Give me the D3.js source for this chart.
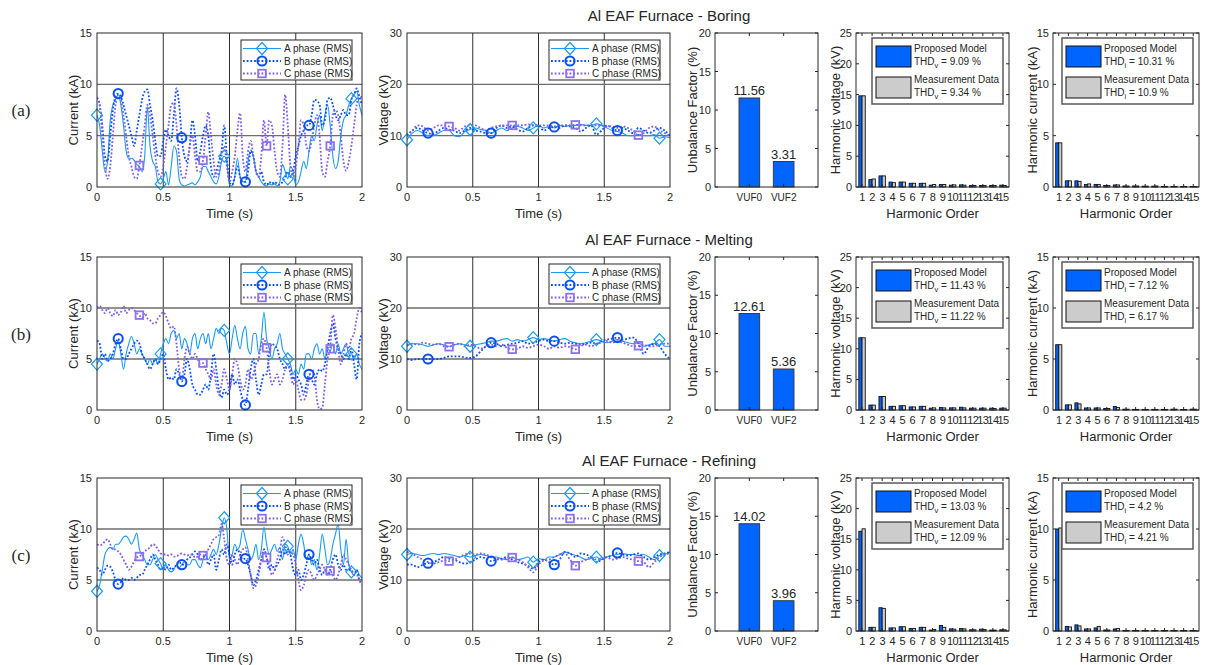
<!DOCTYPE html>
<html>
<head>
<meta charset="utf-8">
<script src="https://cdn.jsdelivr.net/npm/d3@7"></script>
<style>
body { margin: 0; background: #fff; }
text { font-family: "Liberation Sans", Arial, sans-serif; fill: #262626; }
</style>
</head>
<body>
<div id="chart"></div>
<script>
// time bases (s)
var timeCur = d3.range(0, 101).map(function(i) { return +(i * 0.02).toFixed(2); });
var timeVolt = d3.range(0, 51).map(function(i) { return +(i * 0.04).toFixed(2); });

var markTimesA = [0, 0.48, 0.96, 1.44, 1.92],
    markTimesB = [0.16, 0.64, 1.12, 1.60],
    markTimesC = [0.32, 0.80, 1.28, 1.76];

var phaseNames = ['A phase (RMS)', 'B phase (RMS)', 'C phase (RMS)'];
var stageNames = ['Boring', 'Melting', 'Refining'];
var rowTags = ['(a)', '(b)', '(c)'];

// ---- currents (kA), 0.02 s step
var boringCurA = [7.0,6.0,3.5,1.5,2.5,6.5,8.0,8.5,9.0,8.0, 6.0,3.5,2.8,2.8,2.6,2.2,2.0,1.5,3.0,7.8,
    4.0,2.5,2.0,0.5,0.3,0.8,1.5,0.2,2.0,4.0, 3.5,0.8,0.2,0.1,0.2,0.3,0.4,0.2,0.5,1.0,
    2.0,2.0,1.5,1.0,0.5,0.3,1.0,2.5,3.0,2.5, 0.2,0.1,1.0,2.8,1.0,0.5,0.5,2.5,3.6,3.0,
    1.5,1.0,0.5,0.2,0.1,0.3,0.2,0.3,0.1,0.5, 2.2,1.5,0.8,2.0,1.5,0.2,0.5,1.5,2.5,1.8,
    3.5,5.0,4.5,6.0,7.0,5.5,7.0,8.0,6.0,3.0, 1.8,2.5,5.0,6.5,7.0,8.0,8.6,9.0,9.3,8.0,7.0];
var boringCurB = [8.7,8.0,6.0,3.0,2.5,5.0,7.5,8.8,9.1,8.8, 8.0,7.0,6.0,5.0,4.0,5.5,7.0,8.5,9.3,9.5,
    8.0,6.5,4.5,3.0,3.0,4.5,5.6,5.0,4.5,7.0, 9.6,8.0,4.8,3.0,2.5,4.0,6.5,5.0,2.5,3.5,
    5.0,6.0,5.0,2.0,1.0,1.5,2.5,3.5,6.0,3.0, 0.5,0.2,1.0,2.0,1.0,0.5,0.5,1.5,3.5,3.0,
    1.5,1.0,1.5,0.5,0.2,0.5,0.3,0.5,0.3,0.2, 0.5,1.0,1.5,1.0,1.5,3.0,4.0,5.0,5.5,6.0,
    6.0,7.0,8.5,8.4,8.0,6.0,6.5,8.5,8.7,8.0, 7.0,6.5,7.0,7.5,7.0,7.0,8.5,9.0,9.6,8.8,8.0];
var boringCurC = [8.7,8.0,5.0,2.0,0.8,2.0,5.0,8.0,8.8,8.5, 7.0,5.0,3.0,2.0,1.0,0.8,2.1,4.0,6.0,8.0,
    7.0,5.0,3.0,1.5,1.0,2.0,4.0,6.0,8.0,8.2, 6.0,3.0,1.0,0.8,2.0,4.0,5.0,3.0,1.5,1.5,
    2.6,5.0,7.3,5.0,2.5,1.0,1.5,3.0,4.0,2.0, 0.5,1.5,3.0,5.5,7.2,3.0,1.5,3.5,4.5,3.0,
    1.5,1.0,3.0,6.5,4.0,6.5,6.0,3.5,1.5,1.0, 4.0,9.0,6.0,2.0,1.0,2.0,4.0,6.5,6.0,4.0,
    3.5,4.5,6.0,7.0,5.0,1.5,1.0,2.5,4.0,7.0, 7.5,7.0,5.0,2.5,1.6,2.5,4.0,6.0,8.0,9.0,8.5];

var meltingCurA = [4.5,5.0,5.5,5.0,4.8,5.5,5.0,6.0,6.8,5.5, 4.0,5.5,6.5,7.2,6.5,5.5,6.0,5.5,5.0,4.5,
    5.0,4.5,5.0,4.5,5.5,6.5,7.0,6.5,7.5,7.8, 7.0,7.5,6.0,7.0,6.5,5.5,7.0,7.5,6.0,7.0,
    7.5,6.5,7.5,6.0,7.0,8.0,7.5,8.0,7.8,6.5, 5.5,7.0,8.3,7.0,6.0,7.5,8.2,6.0,5.5,7.5,
    7.5,5.5,7.0,9.6,7.0,6.0,5.0,6.0,6.5,7.5, 6.0,5.5,5.0,4.5,3.5,4.0,3.5,4.5,4.0,5.5,
    5.5,5.0,6.0,6.5,5.5,6.0,5.0,6.0,5.8,6.5, 5.5,6.5,5.5,6.0,6.5,5.5,5.5,5.0,5.5,4.5,4.0];
var meltingCurB = [6.8,6.5,5.0,5.5,4.8,5.0,5.5,6.5,7.0,6.0, 5.0,5.0,5.5,6.0,6.5,6.8,6.5,5.5,5.0,4.5,
    4.0,4.5,5.0,4.5,5.0,5.5,4.0,3.0,3.2,3.0, 4.0,3.5,2.8,3.5,5.0,4.0,2.5,2.0,1.5,1.5,
    2.0,2.5,2.0,3.5,5.5,4.0,2.0,1.2,2.0,1.5, 2.0,3.5,2.5,3.0,2.0,1.0,0.5,2.0,4.0,5.0,
    3.0,1.5,2.5,3.5,3.5,5.5,6.5,6.3,6.0,5.0, 4.5,4.0,4.5,4.0,3.0,3.5,3.0,2.5,1.5,2.5,
    3.5,3.0,2.5,3.5,4.0,3.8,4.5,6.0,7.5,8.5, 7.0,6.0,5.5,5.0,5.5,5.0,6.0,4.5,3.0,6.5,7.5];
var meltingCurC = [10.0,10.2,9.8,9.5,10.0,9.5,9.2,9.8,9.3,9.6, 10.2,9.5,9.8,10.0,9.8,9.5,9.3,9.0,9.5,9.0,
    8.8,8.5,8.5,9.0,9.3,9.6,9.2,8.5,8.0,8.2, 6.5,4.0,3.0,5.0,6.2,5.5,5.0,5.5,5.0,4.5,
    4.6,4.0,3.5,3.0,4.0,2.5,1.5,2.5,4.0,3.0, 2.0,3.5,5.0,4.5,3.0,2.0,2.5,4.0,3.0,3.5,
    4.5,5.0,6.5,7.0,6.1,4.0,2.5,3.0,3.5,2.5, 3.0,4.0,4.5,3.5,2.5,3.0,2.0,1.0,1.0,1.5,
    3.0,4.0,3.5,1.0,0.1,0.2,2.5,5.0,6.0,9.3, 8.0,6.0,4.5,5.5,6.5,6.0,7.0,7.5,9.0,10.0,9.5];

var refiningCurA = [3.9,4.5,6.0,7.5,8.0,8.2,8.0,8.5,8.5,8.8, 9.2,9.3,9.0,8.5,9.0,9.6,8.0,7.5,7.0,6.5,
    6.5,7.0,7.5,7.0,6.6,6.0,6.5,6.0,5.8,6.0, 6.5,6.2,6.5,6.8,6.5,6.5,7.0,7.0,6.5,6.2,
    7.0,7.5,7.0,7.5,8.0,7.5,8.5,10.0,11.1,10.0, 7.0,7.5,8.5,8.0,8.5,10.0,9.0,8.0,7.0,7.5,
    8.5,7.0,8.0,10.2,8.5,7.5,8.0,8.5,7.8,8.2, 7.0,8.5,8.3,7.5,8.0,7.0,8.5,9.5,8.5,7.0,
    7.5,6.5,7.0,6.0,7.5,9.5,8.0,6.5,7.0,8.5, 9.5,10.5,8.0,6.5,9.0,6.5,5.8,5.5,6.0,5.5,5.2];
var refiningCurB = [6.2,6.0,5.5,6.0,6.4,6.3,5.8,5.0,4.6,4.8, 5.2,5.0,5.0,5.2,5.0,5.2,5.5,5.5,6.0,6.5,
    7.0,7.5,7.0,6.5,6.0,6.2,6.0,6.5,6.0,6.2, 6.5,6.8,6.5,6.5,7.0,7.2,7.5,7.8,7.5,7.0,
    7.2,7.5,6.5,7.0,7.5,6.0,7.0,8.0,7.5,8.5, 7.5,6.5,7.5,8.0,7.5,7.0,7.1,6.5,5.5,4.5,
    5.0,6.0,7.0,8.0,7.2,6.0,6.5,6.0,6.5,7.0, 8.0,7.5,8.0,7.5,6.0,5.5,6.0,5.0,5.5,6.5,
    7.5,7.0,6.5,7.0,6.0,5.5,6.0,5.5,6.0,7.0, 7.5,6.5,6.0,6.5,6.0,6.0,6.0,5.5,6.0,5.0,4.6];
var refiningCurC = [8.5,8.4,8.5,8.8,9.0,8.5,8.0,8.0,7.8,7.5, 7.0,6.5,6.0,6.3,6.8,7.2,7.3,7.5,7.8,8.0,
    8.2,8.5,8.4,8.0,7.6,7.5,7.5,7.4,7.5,7.3, 7.3,7.5,7.6,7.5,7.4,7.5,7.5,7.2,7.3,7.5,
    7.4,7.6,8.0,8.5,9.0,9.2,9.4,10.5,9.0,7.0, 6.5,7.5,7.0,6.5,7.5,8.0,8.2,7.0,5.5,4.2,
    4.5,5.5,7.0,8.0,7.2,6.5,5.5,6.0,7.0,8.0, 9.2,8.5,7.5,7.8,7.5,6.5,5.0,4.0,4.5,5.5,
    6.0,5.5,5.0,5.5,6.0,6.5,6.0,5.5,5.9,5.5, 5.0,5.5,6.5,7.5,7.0,6.5,6.0,5.5,5.5,5.0,5.0];

// ---- voltages (kV), 0.04 s step
var boringVoltA = [9.2,10.5,11.0,10.5,10.0,10.0,10.5,11.0,11.0,10.0, 9.8,10.8,11.2,11.5,11.2,11.0,10.5,11.0,11.5,11.0,
    11.5,11.8,11.5,11.0,11.5,12.0,11.5,11.8,11.5,12.0, 11.8,12.0,12.0,12.2,12.0,12.0,12.3,12.0,11.5,11.0,
    10.8,10.5,10.0,10.0,10.2,10.0,10.0,10.2,9.5,9.8,9.6];
var boringVoltB = [10.0,11.0,11.5,11.0,10.5,10.3,11.0,11.5,11.2,11.0, 10.5,11.0,11.5,11.0,10.8,10.5,10.5,11.5,12.0,11.5,
    11.8,11.2,10.8,11.5,12.0,12.0,11.0,11.5,11.7,11.5, 12.0,11.8,11.5,10.8,11.5,12.0,10.2,11.0,12.0,11.5,
    11.0,11.5,11.0,10.5,11.5,11.0,10.5,11.0,11.5,11.0,10.0];
var boringVoltC = [10.0,11.0,12.0,11.8,11.0,11.5,12.0,12.0,11.8,11.5, 11.0,11.8,12.0,12.0,11.5,11.0,11.5,11.8,12.0,12.0,
    12.0,12.0,12.0,12.2,12.0,12.0,12.0,12.0,11.8,12.0, 12.0,12.0,12.1,12.0,12.0,12.0,12.0,12.0,11.8,11.8,
    11.5,11.8,11.5,11.0,10.1,10.5,11.5,11.8,11.0,10.5,9.8];

var meltingVoltA = [12.5,13.0,13.0,12.8,12.5,12.8,13.0,12.8,12.5,12.8, 13.0,12.8,12.5,12.8,13.0,13.2,13.5,13.5,13.8,14.0,
    13.5,13.8,13.5,13.8,14.2,13.8,14.0,13.8,13.5,13.8, 14.0,13.5,13.2,13.0,13.2,13.5,13.8,13.5,13.2,13.5,
    13.8,13.5,13.2,13.0,13.2,12.5,12.8,13.0,13.8,12.5,12.5];
var meltingVoltB = [10.0,9.8,10.0,10.0,10.0,10.0,10.0,10.2,10.5,10.5, 10.5,10.3,10.2,10.5,11.5,12.5,13.2,13.0,12.5,12.8,
    13.0,13.2,13.5,13.0,13.2,13.5,13.8,13.5,13.5,13.2, 13.0,13.2,13.0,12.8,13.0,13.2,13.0,13.5,13.8,14.0,
    14.2,13.8,14.0,14.2,13.0,11.0,12.5,13.0,12.5,11.0,10.0];
var meltingVoltC = [12.8,13.0,12.8,13.2,13.0,12.8,13.0,12.5,12.4,12.8, 13.0,12.5,12.8,12.5,12.0,12.5,12.8,12.5,12.8,12.2,
    11.9,12.0,12.5,12.2,12.5,12.8,12.5,12.0,12.5,12.2, 12.5,12.3,11.9,12.5,12.8,12.5,13.0,13.2,13.5,13.2,
    13.5,13.2,12.8,12.5,12.6,12.8,12.5,12.5,12.8,13.0,13.0];

var refiningVoltA = [15.0,15.2,15.0,14.8,15.0,15.2,15.0,15.2,15.0,14.8, 14.5,14.8,14.5,14.8,15.0,14.8,14.5,14.5,14.2,14.0,
    14.5,14.0,14.2,14.5,13.5,14.2,14.0,14.5,14.5,15.0, 15.5,15.2,14.8,14.5,14.0,14.2,14.5,14.0,14.5,14.8,
    15.0,15.2,15.0,15.0,14.8,15.0,14.5,14.0,14.8,15.0,15.5];
var refiningVoltB = [13.0,13.0,12.5,13.0,13.3,13.5,14.0,14.5,14.2,14.0, 13.5,13.2,13.5,14.0,14.5,14.2,13.7,14.0,14.2,14.5,
    14.0,13.5,13.2,12.8,12.2,13.5,14.0,13.5,13.0,14.0, 15.5,15.2,14.5,15.2,15.0,14.5,13.5,14.0,14.5,14.8,
    15.3,15.0,14.8,15.0,15.2,14.5,14.0,14.5,15.0,15.2,15.5];
var refiningVoltC = [15.5,15.2,14.5,14.0,13.5,13.2,13.5,13.8,13.7,14.0, 14.5,15.0,15.2,15.0,15.2,15.0,14.5,14.2,14.0,14.2,
    14.4,14.0,13.5,12.5,11.5,13.0,13.8,14.0,14.5,15.0, 15.2,14.0,12.8,13.5,14.0,14.5,14.0,14.2,14.5,14.0,
    14.2,14.5,14.2,14.0,13.7,13.5,12.5,13.5,14.5,15.0,15.2];

// ---- unbalance factors (%)
var vufLabels = ['VUF0', 'VUF2'];
var boringVuf = [11.56, 3.31],
    meltingVuf = [12.61, 5.36],
    refiningVuf = [14.02, 3.96];

// ---- harmonic spectra, orders 1..15 (model / measurement)
var harmOrders = d3.range(1, 16);
var boringHarmVModel = [14.8,1.2,1.8,0.8,0.8,0.6,0.6,0.3,0.4,0.3,0.35,0.25,0.25,0.25,0.3],
    boringHarmVMeas  = [14.8,1.3,1.8,0.7,0.8,0.6,0.6,0.4,0.4,0.35,0.3,0.25,0.25,0.25,0.25],
    boringHarmIModel = [4.3,0.6,0.6,0.25,0.25,0.15,0.2,0.1,0.1,0.08,0.08,0.06,0.06,0.05,0.05],
    boringHarmIMeas  = [4.3,0.6,0.55,0.3,0.25,0.15,0.2,0.1,0.1,0.08,0.1,0.06,0.06,0.05,0.05];
var meltingHarmVModel = [11.8,0.8,2.2,0.6,0.7,0.5,0.6,0.3,0.4,0.35,0.45,0.3,0.3,0.3,0.3],
    meltingHarmVMeas  = [11.8,0.8,2.2,0.6,0.7,0.5,0.6,0.35,0.35,0.35,0.35,0.3,0.3,0.25,0.3],
    meltingHarmIModel = [6.4,0.5,0.7,0.2,0.2,0.15,0.35,0.08,0.06,0.06,0.06,0.06,0.08,0.05,0.08],
    meltingHarmIMeas  = [6.4,0.5,0.6,0.2,0.2,0.15,0.25,0.08,0.06,0.06,0.06,0.06,0.08,0.05,0.08];
var refiningHarmVModel = [16.3,0.6,3.8,0.5,0.7,0.4,0.6,0.15,0.9,0.35,0.4,0.2,0.3,0.15,0.2],
    refiningHarmVMeas  = [16.7,0.6,3.7,0.5,0.7,0.4,0.6,0.25,0.6,0.3,0.35,0.2,0.25,0.15,0.2],
    refiningHarmIModel = [10.0,0.45,0.6,0.2,0.3,0.1,0.2,0.05,0.05,0.05,0.05,0.05,0.05,0.05,0.05],
    refiningHarmIMeas  = [10.1,0.4,0.5,0.2,0.45,0.1,0.25,0.05,0.05,0.05,0.05,0.05,0.05,0.05,0.05];

var boringThdV = ['9.09', '9.34'], boringThdI = ['10.31', '10.9'];
var meltingThdV = ['11.43', '11.22'], meltingThdI = ['7.12', '6.17'];
var refiningThdV = ['13.03', '12.09'], refiningThdI = ['4.2', '4.21'];

// ---- layout
var width = 1205, height = 665;
var rows = [[33, 187], [257, 410], [478, 631]];
var cols = { cur: [97, 362], volt: [407, 670], vuf: [715, 818], hv: [856, 1009], hi: [1053, 1199] };

var phaseColor = ['#1a9af2', '#0a4ff0', '#7d5fe3'];
var markColor = ['#1a9af2', '#0a4ff0', '#8c70ee'];
var barBlue = '#0064ff', barGray = '#cccccc';

var svg = d3.select('#chart').append('svg')
    .attr('width', width)
    .attr('height', height);

var clipId = 0;

function drawMarker(g, type, x, y, color) {
    if (type == 0) {
        g.append('path')
            .attr('d', 'M' + x + ',' + (y - 6) + 'L' + (x + 5.5) + ',' + y + 'L' + x + ',' + (y + 6) + 'L' + (x - 5.5) + ',' + y + 'Z')
            .attr('fill', 'none').attr('stroke', color).attr('stroke-width', 1.2);
    } else if (type == 1) {
        g.append('circle').attr('cx', x).attr('cy', y).attr('r', 4.6)
            .attr('fill', 'none').attr('stroke', color).attr('stroke-width', 2);
    } else {
        g.append('rect').attr('x', x - 3.8).attr('y', y - 3.8).attr('width', 7.6).attr('height', 7.6)
            .attr('fill', 'none').attr('stroke', color).attr('stroke-width', 1.8);
    }
}

function styleLine(sel, k) {
    sel.attr('fill', 'none').attr('stroke', phaseColor[k]);
    if (k == 0) sel.attr('stroke-width', 1.1);
    else sel.attr('stroke-width', 1.8).attr('stroke-dasharray', '1.8,1.9');
    return sel;
}

function timePlot(row, col, time, series, ymax, ystep, ylabel) {
    var x0 = col[0], x1 = col[1], yTop = row[0], yBot = row[1];
    var x = d3.scaleLinear().domain([0, 2]).range([x0, x1]);
    var y = d3.scaleLinear().domain([0, ymax]).range([yBot, yTop]);
    var g = svg.append('g');
    var yticks = d3.range(0, ymax + 0.001, ystep);

    // grid
    g.selectAll('.vg').data([0.5, 1, 1.5]).enter().append('line')
        .attr('x1', function(d) { return x(d); }).attr('x2', function(d) { return x(d); })
        .attr('y1', yTop).attr('y2', yBot)
        .attr('stroke', '#303030').attr('stroke-width', 1);
    g.selectAll('.hg').data(yticks.slice(1, -1)).enter().append('line')
        .attr('x1', x0).attr('x2', x1)
        .attr('y1', function(d) { return y(d); }).attr('y2', function(d) { return y(d); })
        .attr('stroke', '#6e6e6e').attr('stroke-width', 1.4);

    clipId++;
    g.append('clipPath').attr('id', 'clip' + clipId).append('rect')
        .attr('x', x0).attr('y', yTop).attr('width', x1 - x0).attr('height', yBot - yTop);

    var step = time[1] - time[0];
    var markTimes = [markTimesA, markTimesB, markTimesC];
    var line = d3.line()
        .x(function(d, i) { return x(time[i]); })
        .y(function(d) { return y(d); })
        .curve(d3.curveMonotoneX);

    var lg = g.append('g').attr('clip-path', 'url(#clip' + clipId + ')');
    series.forEach(function(s, k) {
        styleLine(lg.append('path').attr('d', line(s)), k);
    });
    series.forEach(function(s, k) {
        markTimes[k].forEach(function(t) {
            var i = Math.round(t / step);
            drawMarker(g, k, x(time[i]), y(s[i]), markColor[k]);
        });
    });

    // box
    g.append('rect').attr('x', x0).attr('y', yTop).attr('width', x1 - x0).attr('height', yBot - yTop)
        .attr('fill', 'none').attr('stroke', '#262626').attr('stroke-width', 1);

    // tick labels
    g.selectAll('.yt').data(yticks).enter().append('text')
        .attr('x', x0 - 5).attr('y', function(d) { return y(d) + 4; })
        .attr('text-anchor', 'end').attr('font-size', '11px')
        .text(function(d) { return d; });
    g.selectAll('.xt').data([0, 0.5, 1, 1.5, 2]).enter().append('text')
        .attr('x', function(d) { return x(d); }).attr('y', yBot + 14)
        .attr('text-anchor', 'middle').attr('font-size', '11px')
        .text(function(d) { return d; });
    g.append('text').attr('x', (x0 + x1) / 2).attr('y', yBot + 31)
        .attr('text-anchor', 'middle').attr('font-size', '13px').text('Time (s)');
    g.append('text')
        .attr('transform', 'translate(' + (x0 - 19) + ',' + ((yTop + yBot) / 2) + ') rotate(-90)')
        .attr('text-anchor', 'middle').attr('font-size', '13px').text(ylabel);

    // legend
    var lx = x1 - 121, ly = yTop + 7;
    var leg = g.append('g');
    leg.append('rect').attr('x', lx).attr('y', ly).attr('width', 111).attr('height', 40)
        .attr('fill', '#fff').attr('stroke', '#262626').attr('stroke-width', 1);
    phaseNames.forEach(function(name, k) {
        var yy = ly + 8.5 + k * 12.5;
        styleLine(leg.append('line').attr('x1', lx + 2).attr('x2', lx + 40).attr('y1', yy).attr('y2', yy), k);
        drawMarker(leg, k, lx + 21, yy, markColor[k]);
        leg.append('text').attr('x', lx + 43).attr('y', yy + 3.5)
            .attr('font-size', '10px').attr('fill', '#000').text(name);
    });
}

function boxTicks(g, x, y, xt, yt, x0, x1, yTop, yBot) {
    var len = 3;
    yt.forEach(function(v) {
        g.append('line').attr('x1', x0).attr('x2', x0 + len).attr('y1', y(v)).attr('y2', y(v)).attr('stroke', '#262626');
        g.append('line').attr('x1', x1).attr('x2', x1 - len).attr('y1', y(v)).attr('y2', y(v)).attr('stroke', '#262626');
    });
    xt.forEach(function(v) {
        g.append('line').attr('x1', x(v)).attr('x2', x(v)).attr('y1', yBot).attr('y2', yBot - len).attr('stroke', '#262626');
        g.append('line').attr('x1', x(v)).attr('x2', x(v)).attr('y1', yTop).attr('y2', yTop + len).attr('stroke', '#262626');
    });
    g.append('rect').attr('x', x0).attr('y', yTop).attr('width', x1 - x0).attr('height', yBot - yTop)
        .attr('fill', 'none').attr('stroke', '#262626').attr('stroke-width', 1);
}

function vufPlot(row, vals) {
    var x0 = cols.vuf[0], x1 = cols.vuf[1], yTop = row[0], yBot = row[1];
    var x = d3.scaleLinear().domain([0, 3]).range([x0, x1]);
    var y = d3.scaleLinear().domain([0, 20]).range([yBot, yTop]);
    var g = svg.append('g');
    var bw = 0.6;

    g.selectAll('.bar').data(vals).enter().append('rect')
        .attr('x', function(d, i) { return x(i + 1 - bw / 2); })
        .attr('width', x(bw) - x(0))
        .attr('y', function(d) { return y(d); })
        .attr('height', function(d) { return yBot - y(d); })
        .attr('fill', barBlue).attr('stroke', '#3a3a3a').attr('stroke-width', 1);
    g.selectAll('.val').data(vals).enter().append('text')
        .attr('x', function(d, i) { return x(i + 1); })
        .attr('y', function(d) { return y(d) - 3; })
        .attr('text-anchor', 'middle').attr('font-size', '13px').attr('fill', '#000')
        .text(function(d) { return d.toFixed(2); });

    boxTicks(g, x, y, [1, 2], [0, 5, 10, 15, 20], x0, x1, yTop, yBot);

    g.selectAll('.yt').data([0, 5, 10, 15, 20]).enter().append('text')
        .attr('x', x0 - 4).attr('y', function(d) { return y(d) + 4; })
        .attr('text-anchor', 'end').attr('font-size', '11px')
        .text(function(d) { return d; });
    g.selectAll('.xt').data(vufLabels).enter().append('text')
        .attr('x', function(d, i) { return x(i + 1); }).attr('y', yBot + 14)
        .attr('text-anchor', 'middle').attr('font-size', '10px')
        .text(function(d) { return d; });
    g.append('text')
        .attr('transform', 'translate(' + (x0 - 18) + ',' + ((yTop + yBot) / 2) + ') rotate(-90)')
        .attr('text-anchor', 'middle').attr('font-size', '13px').text('Unbalance Factor (%)');
}

function harmPlot(row, col, model, meas, ymax, ylabel, sub, thd) {
    var x0 = col[0], x1 = col[1], yTop = row[0], yBot = row[1];
    var x = d3.scaleLinear().domain([0.4, 15.6]).range([x0, x1]);
    var y = d3.scaleLinear().domain([0, ymax]).range([yBot, yTop]);
    var g = svg.append('g');
    var bw = 0.32;
    var yt = d3.range(0, ymax + 0.001, 5);

    g.selectAll('.bm').data(model).enter().append('rect')
        .attr('x', function(d, i) { return x(harmOrders[i] - bw); })
        .attr('width', x(bw) - x(0))
        .attr('y', function(d) { return y(d); })
        .attr('height', function(d) { return yBot - y(d); })
        .attr('fill', barBlue).attr('stroke', '#111').attr('stroke-width', 0.9);
    g.selectAll('.bs').data(meas).enter().append('rect')
        .attr('x', function(d, i) { return x(harmOrders[i]); })
        .attr('width', x(bw) - x(0))
        .attr('y', function(d) { return y(d); })
        .attr('height', function(d) { return yBot - y(d); })
        .attr('fill', barGray).attr('stroke', '#111').attr('stroke-width', 0.9);

    boxTicks(g, x, y, harmOrders, yt, x0, x1, yTop, yBot);

    g.selectAll('.yt').data(yt).enter().append('text')
        .attr('x', x0 - 4).attr('y', function(d) { return y(d) + 4; })
        .attr('text-anchor', 'end').attr('font-size', '11px')
        .text(function(d) { return d; });
    g.selectAll('.xt').data(harmOrders).enter().append('text')
        .attr('x', function(d) { return x(d); }).attr('y', yBot + 14)
        .attr('text-anchor', 'middle').attr('font-size', '11px').attr('letter-spacing', '-0.6px')
        .text(function(d) { return d; });
    g.append('text').attr('x', (x0 + x1) / 2).attr('y', yBot + 31)
        .attr('text-anchor', 'middle').attr('font-size', '13px').text('Harmonic Order');
    g.append('text')
        .attr('transform', 'translate(' + (x0 - 16) + ',' + ((yTop + yBot) / 2) + ') rotate(-90)')
        .attr('text-anchor', 'middle').attr('font-size', '13px').text(ylabel);

    // legend
    var lx = x1 - 137, ly = yTop + 5;
    g.append('rect').attr('x', lx).attr('y', ly).attr('width', 131).attr('height', 66)
        .attr('fill', '#fff').attr('stroke', '#5a5a5a').attr('stroke-width', 1.5);
    var names = ['Proposed Model', 'Measurement Data'];
    [barBlue, barGray].forEach(function(c, k) {
        var top = ly + 8 + k * 31;
        g.append('rect').attr('x', lx + 4).attr('y', top).attr('width', 35).attr('height', 21)
            .attr('fill', c).attr('stroke', '#111').attr('stroke-width', 1);
        g.append('text').attr('x', lx + 42).attr('y', top + 6).attr('font-size', '10px').attr('fill', '#000')
            .text(names[k]);
        var t = g.append('text').attr('x', lx + 42).attr('y', top + 19).attr('font-size', '10px').attr('fill', '#000');
        t.append('tspan').text('THD');
        t.append('tspan').attr('dy', 3).attr('font-size', '7.5px').text(sub);
        t.append('tspan').attr('dy', -3).text(' = ' + thd[k] + ' %');
    });
}

var curSeries = [[boringCurA, boringCurB, boringCurC], [meltingCurA, meltingCurB, meltingCurC], [refiningCurA, refiningCurB, refiningCurC]];
var voltSeries = [[boringVoltA, boringVoltB, boringVoltC], [meltingVoltA, meltingVoltB, meltingVoltC], [refiningVoltA, refiningVoltB, refiningVoltC]];
var vufSeries = [boringVuf, meltingVuf, refiningVuf];
var harmV = [[boringHarmVModel, boringHarmVMeas], [meltingHarmVModel, meltingHarmVMeas], [refiningHarmVModel, refiningHarmVMeas]];
var harmI = [[boringHarmIModel, boringHarmIMeas], [meltingHarmIModel, meltingHarmIMeas], [refiningHarmIModel, refiningHarmIMeas]];
var thdV = [boringThdV, meltingThdV, refiningThdV];
var thdI = [boringThdI, meltingThdI, refiningThdI];

rows.forEach(function(row, r) {
    svg.append('text').attr('x', 669).attr('y', row[0] - 12)
        .attr('text-anchor', 'middle').attr('font-size', '15px').attr('fill', '#000')
        .text('Al EAF Furnace - ' + stageNames[r]);
    svg.append('text').attr('x', 21).attr('y', (row[0] + row[1]) / 2 + 6)
        .attr('text-anchor', 'middle').attr('font-size', '17px').attr('fill', '#000')
        .style('font-family', '"Liberation Serif", "Times New Roman", serif')
        .text(rowTags[r]);

    timePlot(row, cols.cur, timeCur, curSeries[r], 15, 5, 'Current (kA)');
    timePlot(row, cols.volt, timeVolt, voltSeries[r], 30, 10, 'Voltage (kV)');
    vufPlot(row, vufSeries[r]);
    harmPlot(row, cols.hv, harmV[r][0], harmV[r][1], 25, 'Harmonic voltage (kV)', 'v', thdV[r]);
    harmPlot(row, cols.hi, harmI[r][0], harmI[r][1], 15, 'Harmonic current (kA)', 'i', thdI[r]);
});
</script>
</body>
</html>
